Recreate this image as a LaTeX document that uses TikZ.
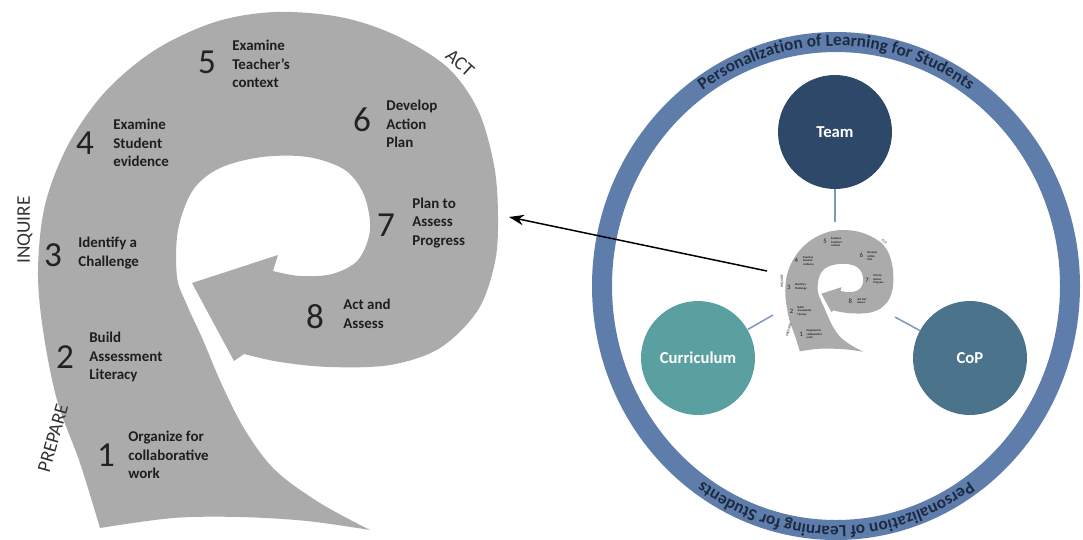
\documentclass[tikz,border=0pt]{standalone}
\usepackage{fontspec}
\setmainfont{Carlito}
\usetikzlibrary{decorations.text, arrows.meta}
\definecolor{spiralgrey}{HTML}{ABABAB}
\definecolor{labcol}{HTML}{1E1E1E}
\definecolor{numcol}{HTML}{222222}
\definecolor{phasecol}{HTML}{333333}
\definecolor{ringcol}{HTML}{5F7DAA}
\definecolor{ringtext}{HTML}{1C2A44}
\definecolor{teamcol}{HTML}{2D4869}
\definecolor{currcol}{HTML}{5AA0A0}
\definecolor{copcol}{HTML}{4B738C}
\definecolor{conncol}{HTML}{7A98BE}
\newcommand{\spk}{1}
\tikzset{
  num/.style={font=\fontsize{\fpeval{20*\spk}}{\fpeval{20*\spk}}\selectfont, text=numcol, inner sep=0pt},
  lab/.style={font=\bfseries\fontsize{\fpeval{8.5*\spk}}{\fpeval{10.5*\spk}}\selectfont, text=labcol, align=left, anchor=west, inner sep=0pt},
  phase/.style={font=\fontsize{\fpeval{11*\spk}}{\fpeval{11*\spk}}\selectfont, text=phasecol, inner sep=0pt},
  circ/.style={circle, minimum size=2.28cm, inner sep=0pt, text=white, font=\bfseries\fontsize{9.5}{11}\selectfont},
  conn/.style={draw=conncol, line width=0.85pt},
}
\newcommand{\drawspiralfig}[1]{%
  \fill[spiralgrey] plot[smooth, tension=0.55] coordinates {(100,-528) (80,-463) (57,-400) (43,-330) (38,-270) (45,-205) (68,-145) (105,-92) (155,-50) (215,-22) (275,-12) (340,-17) (395,-35) (447,-67) (478,-110) (494,-165) (498,-215) (495,-262) (478,-310) (440,-348) (390,-365) (330,-367) (280,-362) (244,-354)}
   -- (234,-361) -- (192,-283) -- (278,-255)
   -- plot[smooth, tension=0.55] coordinates {(273,-271) (300,-276) (332,-274) (358,-260) (370,-230) (364,-195) (345,-170) (308,-157) (262,-157) (220,-168) (193,-190) (178,-230) (177,-277) (187,-305) (203,-340) (222,-385) (245,-430) (275,-470) (320,-503) (370,-530)}
   -- plot[smooth, tension=0.55] coordinates {(370,-530) (307,-521) (240,-517) (173,-518) (100,-528)}
   -- cycle;
  \node[num] (#1n1) at (106,-455) {1};
  \node[lab] (#1l1) at (128,-455) {Organize for\\collaborative\\work};
  \node[num] (#1n2) at (65,-357) {2};
  \node[lab] (#1l2) at (89,-357) {Build\\Assessment\\Literacy};
  \node[num] (#1n3) at (53,-255) {3};
  \node[lab] (#1l3) at (78,-253) {Identify a\\Challenge};
  \node[num] (#1n4) at (85,-143) {4};
  \node[lab] (#1l4) at (113,-143) {Examine\\Student\\evidence};
  \node[num] (#1n5) at (207,-62) {5};
  \node[lab] (#1l5) at (232,-64) {Examine\\Teacher's\\context};
  \node[num] (#1n6) at (362,-120) {6};
  \node[lab] (#1l6) at (386,-124) {Develop\\Action\\Plan};
  \node[num] (#1n7) at (386,-225) {7};
  \node[lab] (#1l7) at (412,-223) {Plan to\\Assess\\Progress};
  \node[num] (#1n8) at (315,-317) {8};
  \node[lab] (#1l8) at (343,-314) {Act and\\Assess};
  \node[phase, rotate=-42] (#1act) at (460,-63) {ACT};
  \node[phase, rotate=90] (#1inq) at (25,-230) {INQUIRE};
  \node[phase, rotate=74] (#1prep) at (53,-438) {PREPARE};
}
\begin{document}
\begin{tikzpicture}[x=0.02cm, y=0.02cm]
\useasboundingbox (0,0) rectangle (1083,-539);
% large spiral
\drawspiralfig{big}
% ring
\fill[ringcol, even odd rule] (836,-286) ellipse [x radius=244, y radius=254]
      (836,-286) ellipse [x radius=224, y radius=234];
\path[decorate, decoration={text along path, text align=center,
   text={|\bfseries\fontsize{9.8}{10}\selectfont\color{ringtext}|Personalization of Learning for Students}}]
   (836,-286) ++(165:230 and 240) arc[start angle=165, end angle=15, x radius=230, y radius=240];
\path[decorate, decoration={text along path, text align=center,
   text={|\bfseries\fontsize{9.8}{10}\selectfont\color{ringtext}|Personalization of Learning for Students}}]
   (836,-286) ++(-15:230 and 240) arc[start angle=-15, end angle=-165, x radius=230, y radius=240];
% circles
\node[circ, fill=teamcol] (team) at (835,-132) {Team};
\node[circ, fill=currcol] (curr) at (698,-358) {Curriculum};
\node[circ, fill=copcol] (cop) at (970,-358) {CoP};
% small spiral (scaled copy, text set at reduced sizes)
\begin{scope}[shift={(776.3,-227.2)}, scale=0.235]
\renewcommand{\spk}{0.19}
\drawspiralfig{small}
\end{scope}
\coordinate (smalltop) at (835,-222);
\coordinate (smallleft) at (773,-315);
\coordinate (smallright) at (895,-317);
\draw[conn] (team) -- (smalltop);
\draw[conn] (curr) -- (smallleft);
\draw[conn] (cop) -- (smallright);
% arrow from small spiral to big spiral
\coordinate (arrowstart) at (767,-271);
\coordinate (arrowend) at (509,-217);
\draw[line width=0.85pt, -{Stealth[length=8.5pt, width=6pt]}] (arrowstart) -- (arrowend);
\end{tikzpicture}
\end{document}
